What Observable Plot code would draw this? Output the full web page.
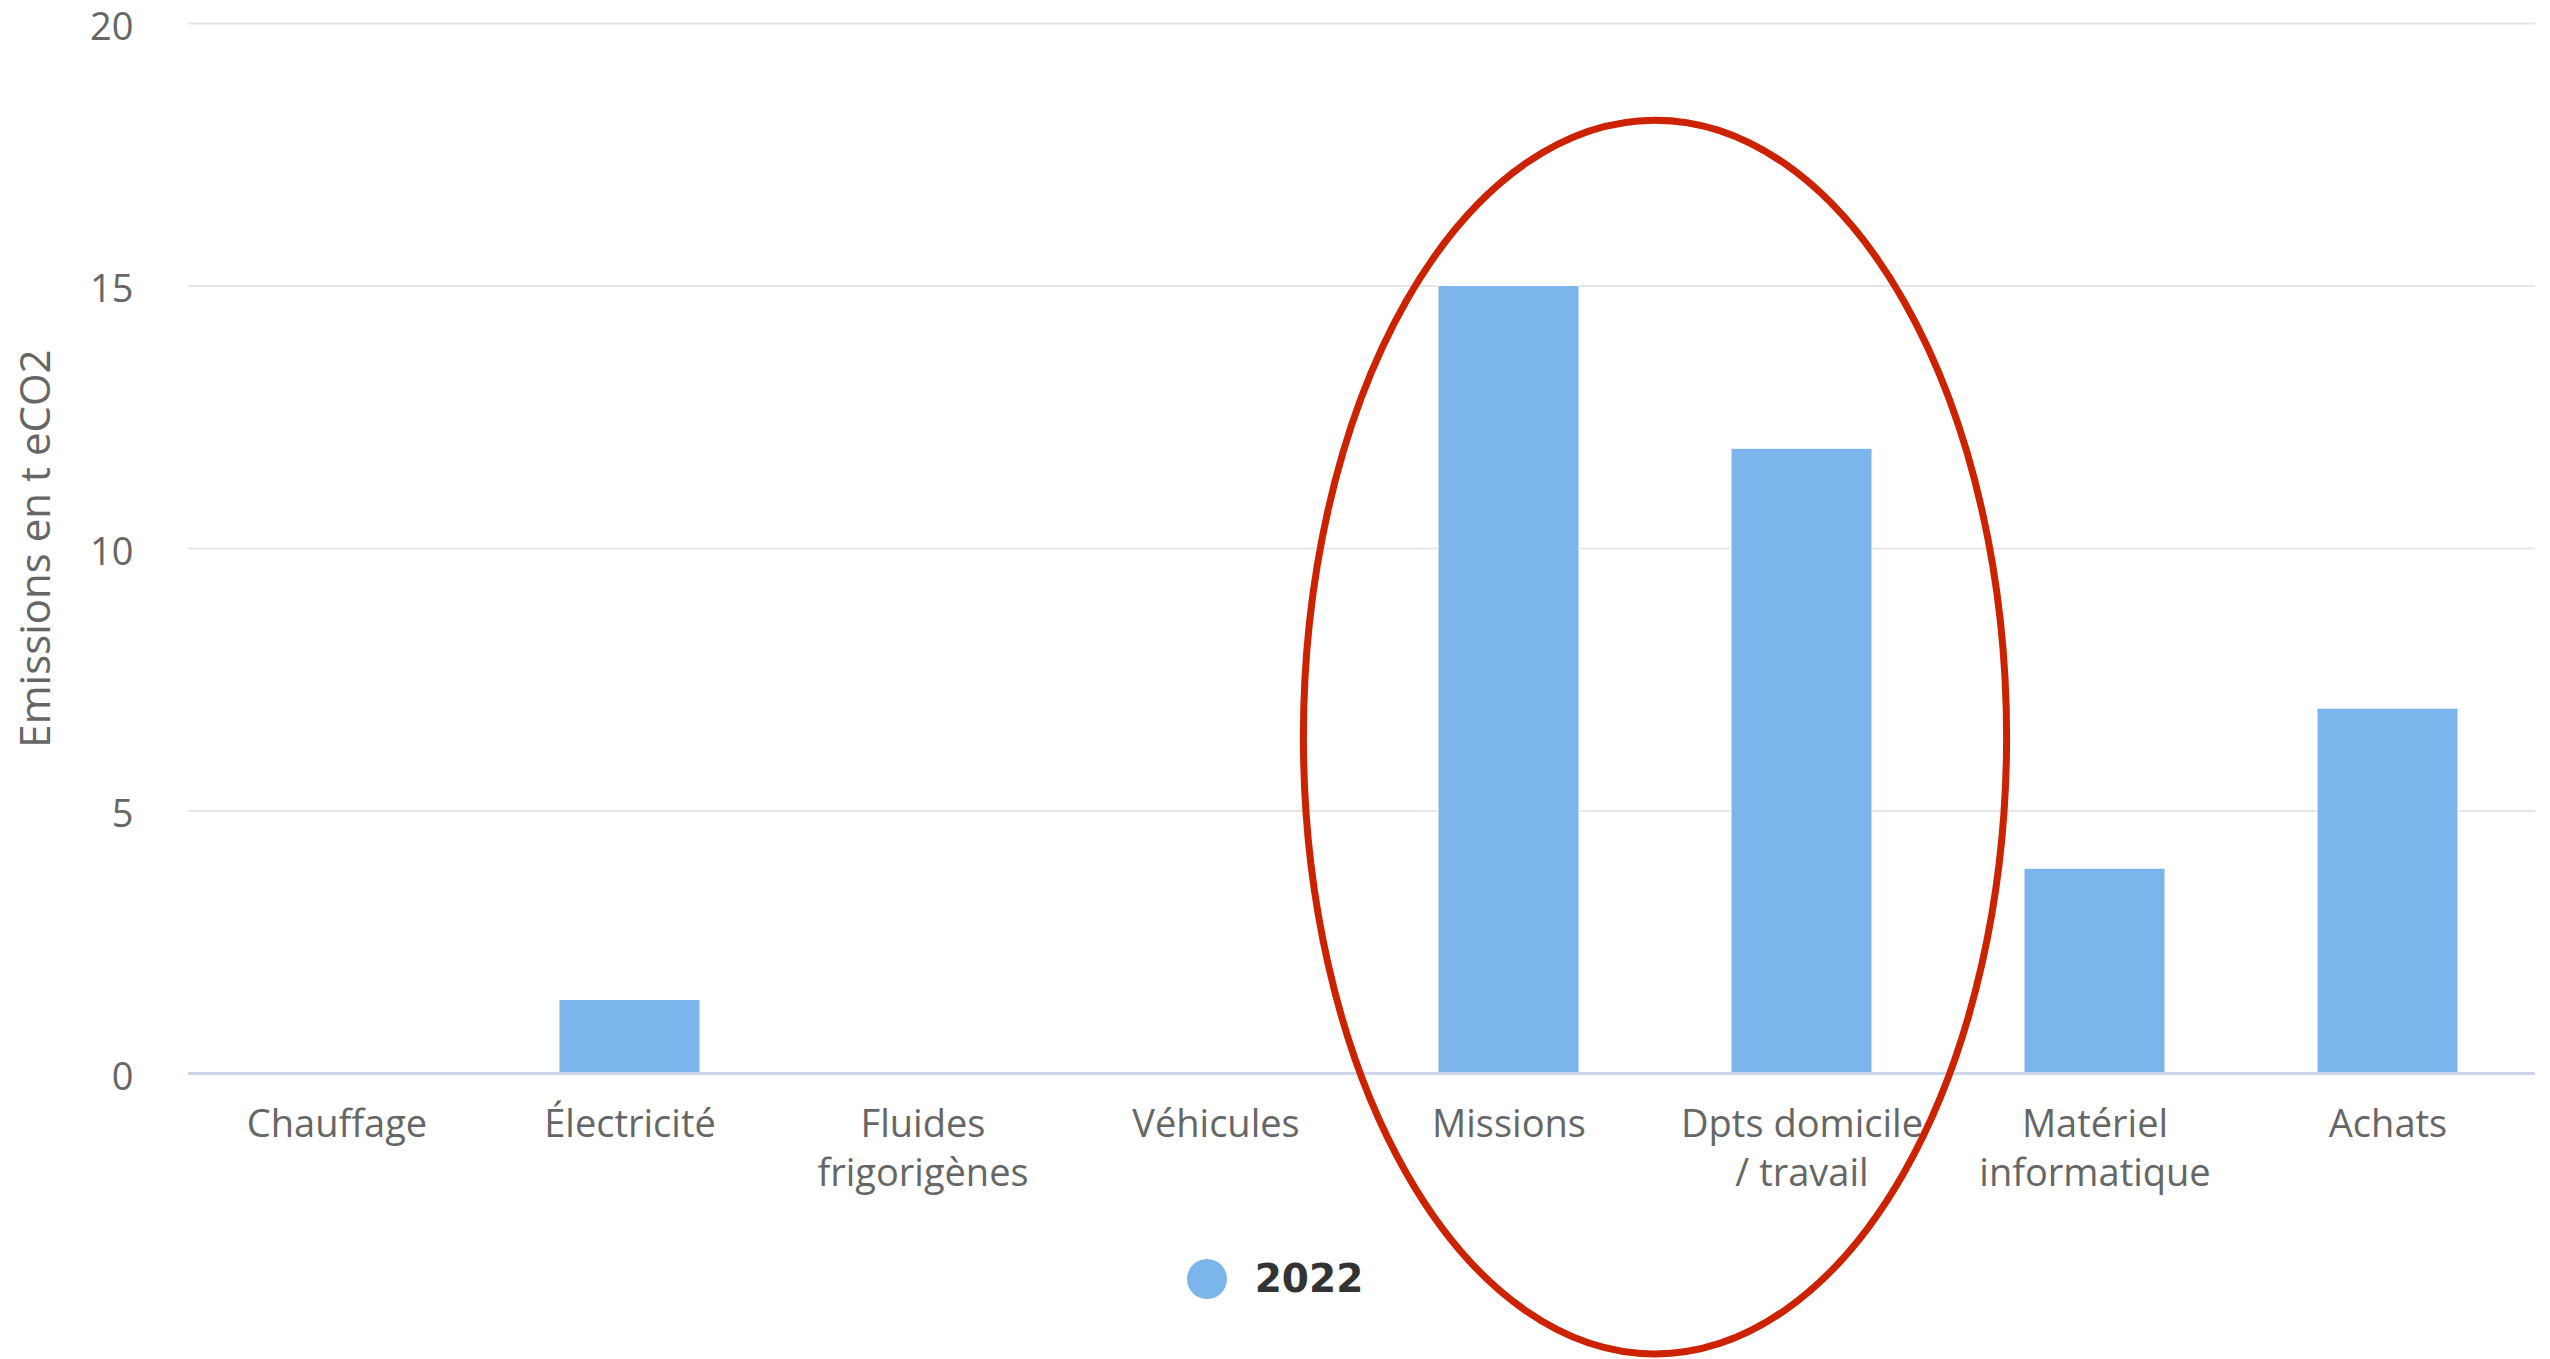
<!DOCTYPE html>
<html>
<head>
<meta charset="utf-8">
<script src="https://cdn.jsdelivr.net/npm/d3@7"></script>
<script src="https://cdn.jsdelivr.net/npm/@observablehq/plot@0.6"></script>
<style>
  html, body { margin: 0; padding: 0; background: #ffffff; }
  body { width: 2550px; height: 1359px; overflow: hidden; font-family: "Open Sans", sans-serif; }
  #chart svg { overflow: visible; position: relative; z-index: 2; display: block; }
  #legend { position: relative; z-index: 1; display: flex; justify-content: center; align-items: center; height: 40px; margin-top: 44px; }
  #legend .dot { width: 40px; height: 40px; border-radius: 50%; background: #7cb5ec; margin-right: 28px; }
  #legend .lab { font-family: "DejaVu Sans", sans-serif; font-weight: 700; font-size: 39px; color: #333333; line-height: 40px; }
</style>
</head>
<body>
<div id="chart"></div>
<div id="legend"></div>
<script>
const categories = ["Chauffage", "Électricité", "Fluides frigorigènes", "Véhicules", "Missions", "Dpts domicile / travail", "Matériel informatique", "Achats"];
const tickLabels = ["Chauffage", "Électricité", "Fluides\nfrigorigènes", "Véhicules", "Missions", "Dpts domicile\n/ travail", "Matériel\ninformatique", "Achats"];
const values2022 = [0, 1.4, 0, 0, 15, 11.9, 3.9, 6.95];
const yTicks = [0, 5, 10, 15, 20];
const seriesName = "2022";
const yTitle = "Emissions en t eCO2";
const highlighted = ["Missions", "Dpts domicile / travail"];
const highlightY = [6.4, 11.75]; // centre value, half-height in data units
const highlightRxSteps = 1.2;

const data = categories.map((c, i) => ({category: c, value: values2022[i]}));
const labelOf = new Map(categories.map((c, i) => [c, tickLabels[i]]));

const W = 2550, H = 1215;
const chart = Plot.plot({
  width: W,
  height: H,
  marginLeft: 188,
  marginRight: 15,
  marginTop: 23,
  marginBottom: H - 1073,
  style: {fontFamily: "Open Sans, sans-serif", fontSize: "38px", color: "#666666", background: "transparent"},
  x: {domain: categories, paddingInner: 0.52, paddingOuter: 0.26, label: null},
  y: {domain: [0, 20], ticks: yTicks, label: null},
  marks: [
    Plot.gridY(yTicks, {stroke: "#e6e6e6", strokeOpacity: 1, strokeWidth: 2}),
    Plot.barY(data, {x: "category", y: "value", fill: "#7cb5ec", stroke: "#ffffff", strokeWidth: 1}),
    Plot.ruleY([0], {stroke: "#ccd6eb", strokeWidth: 3}),
    Plot.axisY(yTicks, {tickSize: 0, tickPadding: 55, dy: 4, label: null, fontSize: 38, fill: "#666666", tickFormat: d => String(d)}),
    Plot.axisX({tickSize: 0, tickPadding: 29, label: null, fontSize: 38, fill: "#666666", lineHeight: 1.28, lineAnchor: "top", tickFormat: d => labelOf.get(d)}),
    Plot.text([yTitle], {frameAnchor: "left", rotate: -90, dx: -152, text: d => d, fontSize: 42, fill: "#666666", textAnchor: "middle"})
  ]
});
document.getElementById("chart").appendChild(chart);

// highlight ellipse positioned through the plot's scales
const xs = chart.scale("x"), ys = chart.scale("y");
const cx = (xs.apply(highlighted[0]) + xs.apply(highlighted[1])) / 2 + xs.bandwidth / 2;
const cy = ys.apply(highlightY[0]);
const ry = ys.apply(0) - ys.apply(highlightY[1]);
const rx = highlightRxSteps * xs.step;
d3.select(chart).append("ellipse")
  .attr("cx", cx).attr("cy", cy).attr("rx", rx).attr("ry", ry)
  .attr("fill", "none").attr("stroke", "#cc2200").attr("stroke-width", 7);

const lg = d3.select("#legend");
lg.append("div").attr("class", "dot");
lg.append("div").attr("class", "lab").text(seriesName);
</script>
</body>
</html>
